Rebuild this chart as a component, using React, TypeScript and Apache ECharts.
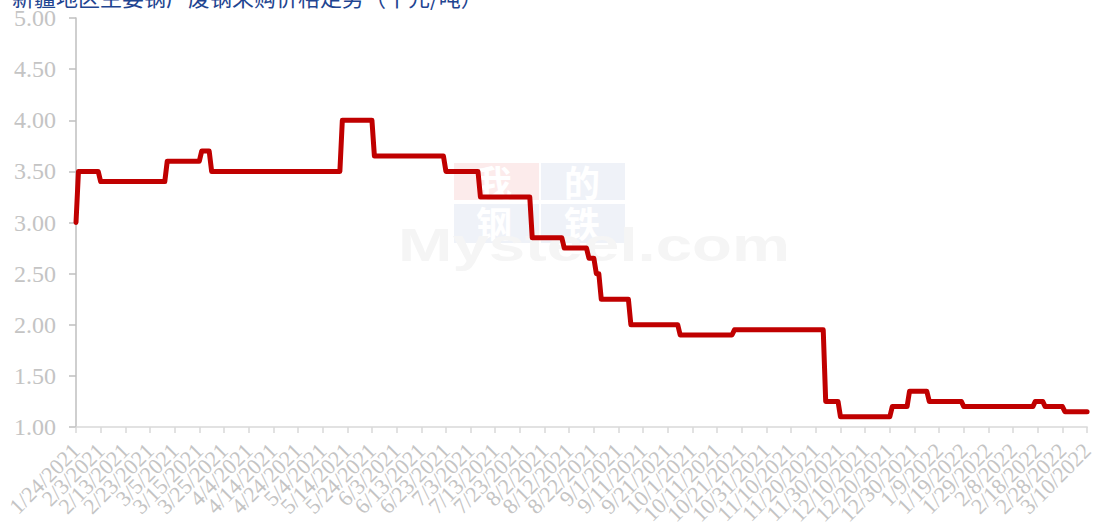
import React, { useEffect, useRef } from 'react';
import * as echarts from 'echarts';

const startDate = '2021-01-24';
const endDate = '2022-03-10';

// Dates on which the value changes, with the new value (held until the next change)
const changeDates = [
  '2021-01-24', '2021-01-25', '2021-02-03', '2021-03-02', '2021-03-16', '2021-03-20',
  '2021-05-12', '2021-05-25', '2021-06-23', '2021-07-07', '2021-07-28', '2021-08-10',
  '2021-08-20', '2021-08-23', '2021-08-25', '2021-09-06', '2021-09-26', '2021-10-18',
  '2021-11-24', '2021-11-30', '2021-12-21', '2021-12-28', '2022-01-05', '2022-01-19',
  '2022-02-17', '2022-02-21', '2022-03-01',
];
const changeValues = [
  3.0, 3.5, 3.4, 3.6, 3.7, 3.5,
  4.0, 3.65, 3.5, 3.25, 2.85, 2.75,
  2.65, 2.5, 2.25, 2.0, 1.9, 1.95,
  1.25, 1.1, 1.2, 1.35, 1.25, 1.2,
  1.25, 1.2, 1.15,
];

const labelEveryDays = 10;
const yMin = 1;
const yMax = 5;
const yStep = 0.5;

const titleText = '新疆地区主要钢厂废钢采购价格走势（千元/吨）';

function parseUTC(s: string): number {
  const [y, m, d] = s.split('-').map(Number);
  return Date.UTC(y, m - 1, d);
}

function buildSeries() {
  const cats: string[] = [];
  const vals: number[] = [];
  const DAY = 86400000;
  const changes = changeDates.map(parseUTC);
  const end = parseUTC(endDate);
  let idx = 0;
  for (let t = parseUTC(startDate); t <= end; t += DAY) {
    while (idx + 1 < changes.length && changes[idx + 1] <= t) idx++;
    const d = new Date(t);
    cats.push(`${d.getUTCMonth() + 1}/${d.getUTCDate()}/${d.getUTCFullYear()}`);
    vals.push(changeValues[idx]);
  }
  return { cats, vals };
}

export default function App() {
  const ref = useRef<HTMLDivElement>(null);
  useEffect(() => {
    if (!ref.current) return;
    const chart = echarts.init(ref.current, undefined, { renderer: 'svg' });
    const { cats, vals } = buildSeries();
    const gray = '#c4c4c4';
    chart.setOption({
      animation: false,
      backgroundColor: '#ffffff',
      grid: { left: 76, right: 6, top: 18, bottom: 102, containLabel: false },
      xAxis: {
        type: 'category',
        data: cats,
        boundaryGap: false,
        axisLine: { lineStyle: { color: '#d9d9d9', width: 1.5 } },
        axisTick: {
          show: true,
          interval: labelEveryDays - 1,
          length: 6,
          lineStyle: { color: '#d9d9d9', width: 1.5 },
        },
        axisLabel: {
          interval: 0,
          formatter: (v: string, i: number) => (i % labelEveryDays === 0 ? v : ''),
          rotate: 45,
          margin: 20,
          color: gray,
          fontFamily: 'Liberation Serif',
          fontSize: 22,
          hideOverlap: false,
        },
        splitLine: { show: false },
      },
      yAxis: {
        type: 'value',
        min: yMin,
        max: yMax,
        interval: yStep,
        axisLine: { show: true, lineStyle: { color: '#bfbfbf', width: 1.5 } },
        axisTick: { show: true, length: 7, lineStyle: { color: '#bfbfbf', width: 1.5 } },
        axisLabel: {
          formatter: (v: number) => v.toFixed(2),
          color: gray,
          fontFamily: 'Liberation Serif',
          fontSize: 24,
          margin: 20,
        },
        splitLine: { show: false },
      },
      graphic: [
        { type: 'rect', z: 0, shape: { x: 454, y: 163, width: 85, height: 37 }, style: { fill: '#fcebeb' } },
        { type: 'rect', z: 0, shape: { x: 541, y: 163, width: 84, height: 37 }, style: { fill: '#eff2f8' } },
        { type: 'rect', z: 0, shape: { x: 454, y: 204, width: 85, height: 39 }, style: { fill: '#eff2f8' } },
        { type: 'rect', z: 0, shape: { x: 541, y: 204, width: 84, height: 39 }, style: { fill: '#eff2f8' } },
        { type: 'text', z: 0, x: 476, y: 163, style: { text: '我', fill: '#ffffff', font: 'bold 36px "Noto Sans CJK SC"' } },
        { type: 'text', z: 0, x: 564, y: 163, style: { text: '的', fill: '#ffffff', font: 'bold 36px "Noto Sans CJK SC"' } },
        { type: 'text', z: 0, x: 476, y: 204, style: { text: '钢', fill: '#ffffff', font: 'bold 36px "Noto Sans CJK SC"' } },
        { type: 'text', z: 0, x: 564, y: 204, style: { text: '铁', fill: '#ffffff', font: 'bold 36px "Noto Sans CJK SC"' } },
        {
          type: 'text', z: 0, x: 398, y: 222, scaleX: 1.42,
          style: { text: 'Mysteel.com', fill: '#f5f5f5', font: 'bold 46px "Liberation Sans"' },
        },
        {
          type: 'text', z: 5, x: 12, y: 7,
          style: {
            text: titleText,
            fill: '#1f4591',
            font: '22px "Noto Sans CJK SC"',
            textVerticalAlign: 'bottom',
          },
        },
      ],
      series: [
        {
          type: 'line',
          data: vals,
          showSymbol: false,
          symbol: 'none',
          z: 3,
          lineStyle: { color: '#c00000', width: 5, join: 'round', cap: 'round' },
        },
      ],
    });
    return () => chart.dispose();
  }, []);
  return (
    <div
      ref={ref}
      style={{ position: 'fixed', left: 0, top: 0, width: 1097, height: 529, background: '#fff' }}
    />
  );
}
